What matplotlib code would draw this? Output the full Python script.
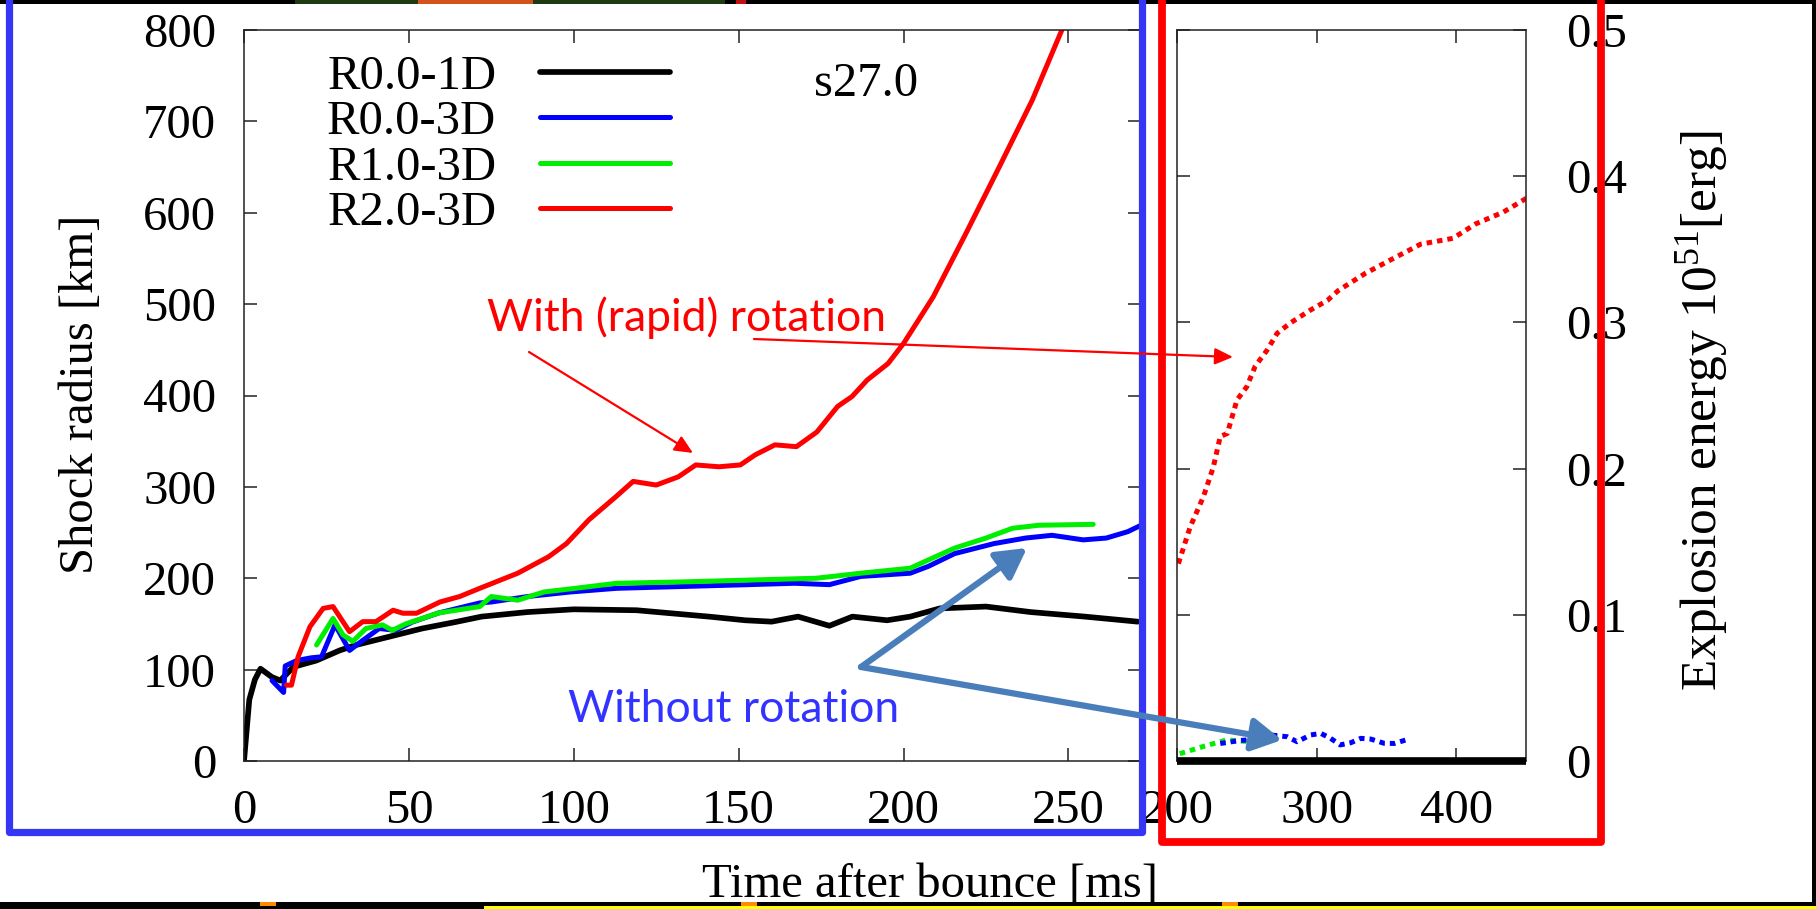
import matplotlib
matplotlib.use("Agg")
import matplotlib.pyplot as plt
from matplotlib.patches import Rectangle, FancyArrowPatch
from matplotlib.lines import Line2D

plt.rcParams["font.family"] = ["Liberation Serif", "DejaVu Serif"]
plt.rcParams["mathtext.fontset"] = "custom"
plt.rcParams["mathtext.rm"] = "Liberation Serif"
plt.rcParams["mathtext.it"] = "Liberation Serif:italic"

# shock radius [km] vs time after bounce [ms]
t_1d = [0, 1.6, 3.3, 5.0, 8.4, 11, 15, 22, 29, 34, 44, 54, 64, 72, 86, 100, 119, 130,
        141, 152, 160, 168, 177.5, 184.5, 195, 202, 211, 225, 238.5, 255, 271]
r_1d = [0, 67, 89, 101, 92, 88, 103, 110, 121, 127, 136, 145, 152, 158, 163, 166, 165, 161.5,
        158, 154, 152.5, 158, 148, 158, 154, 158, 167, 169, 163, 158, 152.5]

t_r00 = [8.5, 12.0, 12.5, 16, 20.5, 23.5, 27.6, 32, 36, 41, 46, 51, 59, 71.5, 75, 86, 99,
         113, 133, 153, 167, 177.5, 187, 202, 207.5, 215.5, 227.5, 237, 245, 254.5, 261.5,
         268, 272]
r_r00 = [88, 75, 104, 110, 113, 114, 149, 121, 132, 145, 143, 152, 162, 173, 174, 180, 185,
         189, 191, 193, 194.5, 193, 202, 205.5, 213, 227, 238, 244, 247, 242, 244,
         251, 258]

t_r10 = [22, 27, 30, 33, 37, 42, 45, 49, 59, 71.5, 75, 83, 91, 100.5, 113, 133, 153, 173.5,
         187, 202, 207.5, 215.5, 225, 233, 241, 257.5]
r_r10 = [127, 156, 138, 131, 145, 149, 143, 150, 162, 169, 180, 176, 185, 189, 194.5, 196, 198,
         200, 205.5, 211, 220, 233, 244, 254.7, 258, 259]

t_r20 = [12.9, 14.4, 16.4, 20, 24, 27, 29, 32, 36, 40, 45.2, 48.2, 52.3, 59.4, 65.4, 71.5,
         83, 92.4, 97.8, 104.6, 112.7, 118, 125, 131.7, 137, 144, 150.5, 155, 161, 167.5,
         173.7, 180, 184.4, 189, 195.3, 200, 204.6, 209, 219, 229, 239, 248, 252]
r_r20 = [83, 83, 114, 147, 167, 169, 158, 141.5, 152.5, 152.5, 165, 161.7, 161.7, 174, 180, 189,
         205.5, 223.6, 238, 264, 289, 306, 302, 311, 324, 322, 324, 335, 346, 344,
         360, 388, 399, 417, 435, 457, 483, 508, 578, 650, 723, 800, 835]

# explosion energy [10^51 erg]
te_1d = [200, 450]
e_1d = [0.0, 0.0]
te_r00 = [231, 245, 258, 267, 279, 286, 295.7, 303, 310, 317, 324.5, 331.7, 338.8, 348.4,
          355.6, 364]
e_r00 = [0.012, 0.014, 0.015, 0.0178, 0.0166, 0.0132, 0.0178, 0.0189, 0.0155, 0.011, 0.0125,
         0.0155, 0.015, 0.0121, 0.012, 0.0144]
te_r10 = [202, 219, 235.7, 255, 258]
e_r10 = [0.005, 0.010, 0.0144, 0.013, 0.013]
te_r20 = [201, 209.4, 219, 226, 231, 236, 243, 250, 256, 264.5, 271.7, 281, 295.7, 307.7,
          315.4, 335, 354.7, 374.5, 397.6, 414, 433.7, 451]
e_r20 = [0.135, 0.160, 0.181, 0.201, 0.222, 0.224, 0.247, 0.256, 0.270, 0.281, 0.2925, 0.2995,
         0.3085, 0.315, 0.3217, 0.3336, 0.3436, 0.3535, 0.3575, 0.3674, 0.3754, 0.3853]

labels = ["R0.0-1D", "R0.0-3D", "R1.0-3D", "R2.0-3D"]
colors = ["#000000", "#0000ff", "#00ee00", "#ff0000"]

W, H = 1816, 909
FS = 35


def fx(px):
    return px / W


def fy(py):
    return 1 - py / H


fig = plt.figure(figsize=(W / 100, H / 100), dpi=100)
fig.patch.set_facecolor("white")

ax = fig.add_axes([fx(244), fy(761), (1141 - 244) / W, 731 / H])
ax2 = fig.add_axes([fx(1177), fy(761), (1526 - 1177) / W, 731 / H])

LW = 3.6
series = [(t_1d, r_1d), (t_r00, r_r00), (t_r10, r_r10), (t_r20, r_r20)]
for (t, r), lab, c in zip(series, labels, colors):
    ax.plot(t, r, color=c, lw=LW + (0.5 if c == "#000000" else 0), label=lab,
            solid_joinstyle="round", solid_capstyle="round")

ax.set_xlim(0, 272)
ax.set_ylim(0, 800)
ax.set_xticks(range(0, 251, 50))
ax.set_yticks(range(0, 801, 100))

dots = (0, (1.1, 1.0))
ax2.plot(te_1d, e_1d, color="black", lw=5.5, solid_capstyle="butt", clip_on=False, zorder=3)
ax2.plot(te_r10, e_r10, color=colors[2], lw=3.6, ls=dots)
ax2.plot(te_r00, e_r00, color=colors[1], lw=3.6, ls=dots)
ax2.plot(te_r20, e_r20, color=colors[3], lw=3.6, ls=dots)
ax2.set_xlim(200, 450)
ax2.set_ylim(0, 0.5)
ax2.set_xticks([200, 300, 400])
ax2.set_yticks([0, 0.1, 0.2, 0.3, 0.4, 0.5])
ax2.set_yticklabels(["0", "0.1", "0.2", "0.3", "0.4", "0.5"])

for a in (ax, ax2):
    for s in a.spines.values():
        s.set_linewidth(1.1)
        s.set_color("#222222")
    a.tick_params(direction="in", length=9.5, width=1.1, labelsize=FS, pad=20,
                  top=True, right=True, colors="#222222", labelcolor="black")
ax2.tick_params(axis="y", labelleft=False, labelright=True, pad=29)

ax.legend(loc="upper left", bbox_to_anchor=(0.0925, 0.966), frameon=False, fontsize=FS,
          handlelength=2.67, handletextpad=0.9, labelspacing=0.03, borderpad=0,
          borderaxespad=0, markerfirst=False)
ax.text(0.693, 0.926, "s27.0", transform=ax.transAxes, ha="center", va="center", fontsize=FS)

fig.text(fx(81), fy(394), "Shock radius [km]", rotation=90, ha="center", va="center",
         fontsize=FS)
fig.text(fx(930), fy(897), "Time after bounce [ms]", ha="center", va="baseline", fontsize=FS)
fig.text(fx(1702), fy(411), r"Explosion energy 10$^{51}$[erg]", rotation=90, ha="center",
         va="center", fontsize=37)

# slide annotations
fig.text(fx(487), fy(331), "With (rapid) rotation", color="#ff0000", fontsize=32,
         family=["Lato", "DejaVu Sans"], va="baseline")
fig.text(fx(568), fy(722), "Without rotation", color="#3333ff", fontsize=32,
         family=["Lato", "DejaVu Sans"], va="baseline")


def arrow(p0, p1, color, lw, style, scale):
    fig.patches.append(FancyArrowPatch((fx(p0[0]), fy(p0[1])), (fx(p1[0]), fy(p1[1])),
                                       transform=fig.transFigure, arrowstyle=style,
                                       mutation_scale=scale, color=color, lw=lw,
                                       shrinkA=0, shrinkB=0, zorder=12))


arrow((529, 352), (693, 453), "#ff0000", 1.6, "-|>,head_length=0.55,head_width=0.25", 20)
arrow((754, 339), (1233, 357), "#ff0000", 1.6, "-|>,head_length=0.55,head_width=0.25", 20)
arrow((861, 667), (1027, 548), "#4a7ebb", 4.5, "-|>,head_length=0.45,head_width=0.25", 40)
arrow((861, 667), (1282, 740), "#4a7ebb", 4.5, "-|>,head_length=0.45,head_width=0.25", 40)


# black slide background around the image
def band(x0, y0, x1, y1, color, z=5):
    fig.patches.append(Rectangle((fx(x0), fy(y1)), (x1 - x0) / W, (y1 - y0) / H,
                                 transform=fig.transFigure, color=color, zorder=z, lw=0))


band(0, 0, W, 4, "black")
band(295, 0, 725, 4, "#1d3a12", 6)
band(418, 0, 533, 4, "#d2541c", 7)
band(736, 0, 746, 4, "#c01010", 7)
band(0, 902, W, H, "black")
band(484, 906, W, H, "#ffff00", 6)
for x0 in (260, 741, 1222):
    band(x0, 902, x0 + 16, 906, "#ff8c00", 7)
band(1812, 0, W, H, "black")

# highlight boxes
for xs, ys, c, lw in [((9, 9, 1142, 1142), (-20, 832, 832, -20), "#3535f5", 5.2),
                      ((1162, 1162, 1601, 1601), (-20, 842, 842, -20), "#ff0000", 5.6)]:
    fig.lines.append(Line2D([fx(x) for x in xs], [fy(y) for y in ys], transform=fig.transFigure,
                            color=c, lw=lw, solid_joinstyle="round", zorder=11))

fig.savefig("out.png", dpi=100, facecolor="white")
